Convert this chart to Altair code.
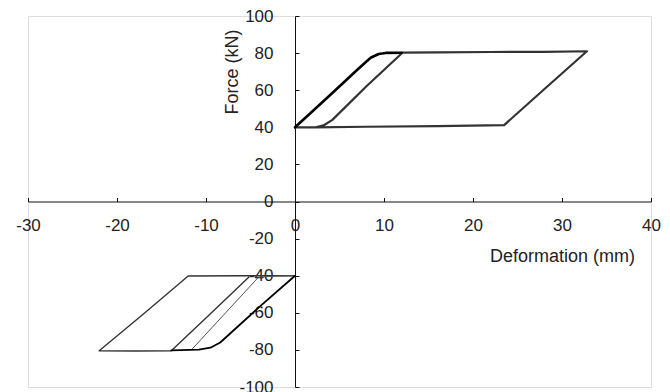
import altair as alt
import pandas as pd

# ---- data ----
upper_thick_x = [0, 2, 4.5, 7, 8.5, 9.4, 10.2, 12.0]
upper_thick_y = [40, 48.8, 59.8, 71.0, 77.5, 79.5, 80.1, 80.2]

upper_loop_x = [0, 2.3, 3.2, 4.2, 8, 12.1, 16, 22, 28, 32.8, 28, 23.5, 16, 8, 2.3]
upper_loop_y = [40, 40, 41, 44, 62, 80.3, 80.4, 80.6, 80.7, 81, 60.5, 41.2, 40.6, 40.3, 40]

lower_thick_x = [0, -4, -8.4, -9.5, -10.8, -13.9]
lower_thick_y = [-40, -56.8, -76.0, -78.8, -79.8, -80.3]

lower_loop_x = [0, -6, -12, -17, -22, -18, -13.9, -9.5, -5.2]
lower_loop_y = [-40, -40, -40.2, -60.5, -80.5, -80.6, -80.5, -60.5, -40.8]

lower_inner_x = [-11.6, -7.8, -4.1, -2, 0]
lower_inner_y = [-79.8, -60, -40.8, -40.2, -40]

x_ticks = [-30, -20, -10, 0, 10, 20, 30, 40]
y_ticks = [-100, -80, -60, -40, -20, 0, 20, 40, 60, 80, 100]

series_names = ["upper thick", "upper loop", "lower thick", "lower loop", "lower inner"]


def frame(name, xs, ys):
    return pd.DataFrame({"series": name, "x": xs, "y": ys, "order": range(len(xs))})


df = pd.concat([
    frame("upper thick", upper_thick_x, upper_thick_y),
    frame("upper loop", upper_loop_x, upper_loop_y),
    frame("lower thick", lower_thick_x, lower_thick_y),
    frame("lower loop", lower_loop_x, lower_loop_y),
    frame("lower inner", lower_inner_x, lower_inner_y),
], ignore_index=True)

W, H = 623, 371
X0 = W * 30 / 70.0      # pixel position of x = 0
Y0 = H / 2.0            # pixel position of y = 0
FONT = "Liberation Sans"

xscale = alt.Scale(domain=[-30, 40], nice=False, zero=False)
yscale = alt.Scale(domain=[-100, 100], nice=False, zero=False)

color = alt.Color("series:N", legend=None,
                  scale=alt.Scale(domain=series_names,
                                  range=["#000000", "#333333", "#000000", "#333333", "#555555"]))
width_enc = alt.StrokeWidth("series:N", legend=None,
                            scale=alt.Scale(domain=series_names, range=[2.6, 1.0, 2.6, 1.0, 0.9]))

base = alt.Chart(df)

thin = base.transform_filter(
    alt.FieldOneOfPredicate(field="series", oneOf=["upper loop", "lower loop", "lower inner"])
).mark_line(strokeCap="round", strokeJoin="round").encode(
    x=alt.X("x:Q", scale=xscale, axis=alt.Axis(
        orient="bottom", offset=-Y0, values=x_ticks, ticks=False, grid=False,
        domainColor="#111", domainWidth=1, labelFlush=False, labelFont=FONT,
        labelFontSize=17, labelColor="#222", labelPadding=16, labelBaseline="top",
        labelExpr="'' + datum.value",
        title="Deformation (mm)", titleFont=FONT, titleFontSize=18, titleFontWeight="normal",
        titleColor="#222", titleX=534, titleY=55, titleAlign="center",
        titleBaseline="middle", titleAngle=0)),
    y=alt.Y("y:Q", scale=yscale, axis=alt.Axis(
        orient="left", offset=-X0, values=y_ticks, ticks=False, grid=False,
        domainColor="#111", domainWidth=1, labelFont=FONT, labelFontSize=17,
        labelColor="#222", labelPadding=22, labelFlush=False,
        labelExpr="'' + datum.value",
        title="Force (kN)", titleFont=FONT, titleFontSize=18, titleFontWeight="normal",
        titleColor="#222", titleX=-63, titleY=55.5, titleAlign="center",
        titleBaseline="middle", titleAngle=270)),
    color=color, strokeWidth=width_enc, detail="series:N", order="order:Q",
)

thick = base.transform_filter(
    alt.FieldOneOfPredicate(field="series", oneOf=["upper thick", "lower thick"])
).mark_line(strokeCap="round", strokeJoin="round").encode(
    x=alt.X("x:Q", scale=xscale, axis=alt.Axis(
        orient="top", offset=-Y0, values=x_ticks, labels=False, domain=False,
        grid=False, ticks=True, tickSize=4, tickColor="#111", title=None)),
    y=alt.Y("y:Q", scale=yscale, axis=alt.Axis(
        orient="right", offset=-(W - X0), values=y_ticks, labels=False, domain=False,
        grid=False, ticks=True, tickSize=4, tickColor="#111", title=None)),
    color=color, strokeWidth=width_enc, detail="series:N", order="order:Q",
)

chart = alt.layer(thin, thick).resolve_axis(x="independent", y="independent").properties(
    width=W, height=H,
    autosize=alt.AutoSizeParams(type="none"),
    padding={"left": 20, "top": 8, "right": 11, "bottom": 5},
).configure_view(stroke="#222", strokeWidth=1).configure(background="white")

chart.save("out.html", embed_options={"renderer": "svg", "actions": False})
